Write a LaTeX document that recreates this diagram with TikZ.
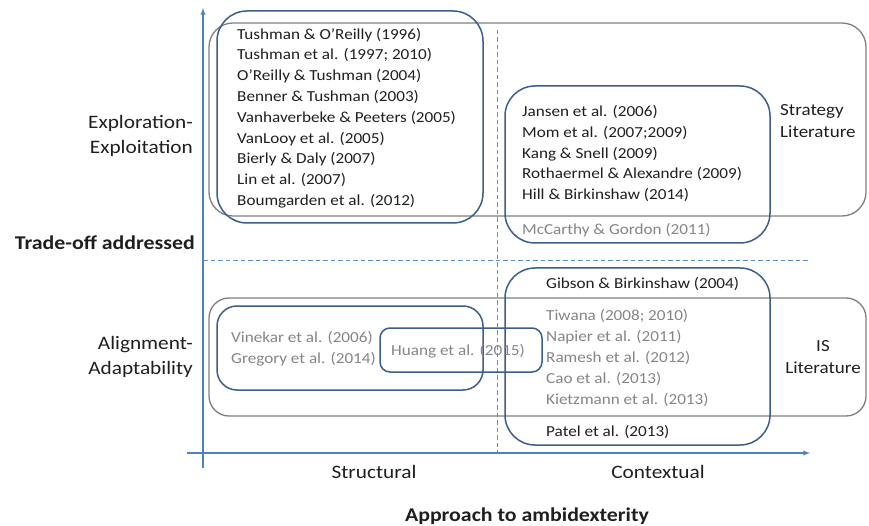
\documentclass[tikz,border=0pt]{standalone}
\usepackage{fontspec}
\setmainfont{Carlito}[FakeStretch=1.12]
\usetikzlibrary{arrows}
\definecolor{axisblue}{HTML}{4F81BD}
\definecolor{dashblue}{HTML}{5B8FD0}
\definecolor{boxblue}{HTML}{3B5E8C}
\definecolor{boxgray}{HTML}{7F7F7F}
\definecolor{textgray}{HTML}{858585}
\definecolor{textdark}{HTML}{1F1F1F}

\begin{document}
\begin{tikzpicture}[x=1pt,y=-1pt,
                    every path/.style={>=latex},
                    every node/.style={inner sep=0pt,text=textdark},
                    ref/.style={align=left,anchor=west,font=\fontsize{15.3}{20.8}\selectfont},
                    faded/.style={ref,text=textgray},
                    lit/.style={align=center,font=\fontsize{17}{22}\selectfont},
                    axislabel/.style={font=\fontsize{19}{25}\selectfont},
                    axistitle/.style={font=\fontsize{19.5}{25}\selectfont\bfseries},
                    bluebox/.style={draw=boxblue,line width=1.5pt},
                    graybox/.style={draw=boxgray,line width=1.3pt},
                    divider/.style={draw=dashblue,line width=1pt,dash pattern=on 4.5pt off 3pt}]
  \useasboundingbox (0,0) rectangle (869,526);

  % axes
  \coordinate (origin) at (203,453);
  \coordinate (ybottom) at (203,468);
  \coordinate (ytop) at (203,8);
  \coordinate (xleft) at (187,453);
  \coordinate (xright) at (810,453);
  \draw[->,axisblue,line width=1.3pt] (ybottom) -- (ytop);
  \draw[->,axisblue,line width=1.3pt] (xleft) -- (xright);

  % quadrant dividers
  \coordinate (vtop) at (497,30);
  \coordinate (vbottom) at (497,453);
  \coordinate (hleft) at (203,261);
  \coordinate (hright) at (808,261);
  \draw[divider] (vtop) -- (vbottom);
  \draw[divider] (hleft) -- (hright);

  % literature streams
  \draw[graybox,rounded corners=24pt] (209,23) rectangle (866,216);
  \draw[graybox,rounded corners=20pt] (209,298) rectangle (866,416);

  % groups of studies
  \draw[bluebox,rounded corners=30pt] (217,11) rectangle (483,223);
  \draw[bluebox,rounded corners=30pt] (505,86) rectangle (770,243);
  \draw[bluebox,rounded corners=20pt] (217,306) rectangle (483,390);
  \draw[bluebox,rounded corners=10pt] (380,328) rectangle (542,372);
  \draw[bluebox,rounded corners=30pt] (505,268) rectangle (770,445);

  % studies
  \node[ref]   (strexp) at (237,118) {Tushman \& O’Reilly (1996)\\Tushman et al. (1997; 2010)\\O’Reilly \& Tushman (2004)\\Benner \& Tushman (2003)\\Vanhaverbeke \& Peeters (2005)\\VanLooy et al. (2005)\\Bierly \& Daly (2007)\\Lin et al. (2007)\\Boumgarden et al. (2012)};
  \node[ref]   (conexp) at (522,153.5) {Jansen et al. (2006)\\Mom et al. (2007;2009)\\Kang \& Snell (2009)\\Rothaermel \& Alexandre (2009)\\Hill \& Birkinshaw (2014)};
  \node[faded] (mccarthy) at (522,230) {McCarthy \& Gordon (2011)};
  \node[ref]   (gibson) at (546,284) {Gibson \& Birkinshaw (2004)};
  \node[faded] (conali) at (546,358) {Tiwana (2008; 2010)\\Napier et al. (2011)\\Ramesh et al. (2012)\\Cao et al. (2013)\\Kietzmann et al. (2013)};
  \node[ref]   (patel) at (546,432) {Patel et al. (2013)};
  \node[faded] (strali) at (231,349) {Vinekar et al. (2006)\\Gregory et al. (2014)};
  \node[faded] (huang) at (391,351) {Huang et al. (2015)};

  % stream labels
  \node[lit,anchor=west,align=left] (strategy) at (780,121) {Strategy\\Literature};
  \node[lit] (is) at (823,357) {IS\\Literature};

  % axis labels
  \node[axislabel,align=right,anchor=east] (explore) at (193,135.5) {Exploration-\\Exploitation};
  \node[axislabel,align=right,anchor=east] (align) at (193,357) {Alignment-\\Adaptability};
  \node[axistitle,anchor=east] (tradeoff) at (195,243) {Trade-off addressed};
  \node[axislabel] (structural) at (374,472) {Structural};
  \node[axislabel] (contextual) at (658,472) {Contextual};
  \node[axistitle] (approach) at (527,516) {Approach to ambidexterity};
\end{tikzpicture}
\end{document}
